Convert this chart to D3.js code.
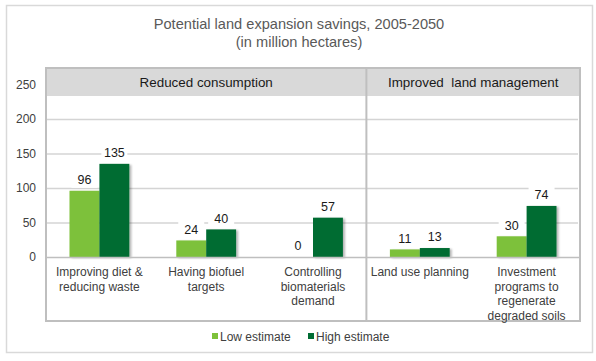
<!DOCTYPE html>
<html>
<head>
<meta charset="utf-8">
<script src="https://cdn.jsdelivr.net/npm/d3@7"></script>
<style>
  body { margin: 0; background: #fff; }
  svg { font-family: "Liberation Sans", Arial, sans-serif; }
</style>
</head>
<body>
<div id="chart"></div>
<script>
// data
var categories = [
  ["Improving diet &", "reducing waste"],
  ["Having biofuel", "targets"],
  ["Controlling", "biomaterials", "demand"],
  ["Land use planning"],
  ["Investment", "programs to", "regenerate", "degraded soils"]
];
var lowEstimate = [96, 24, 0, 11, 30];
var highEstimate = [135, 40, 57, 13, 74];
var groups = [
  { name: "Reduced consumption", from: 0, to: 3 },
  { name: "Improved  land management", from: 3, to: 5 }
];
var yTicks = [0, 50, 100, 150, 200, 250];
var seriesNames = ["Low estimate", "High estimate"];
var colors = ["#7dc13a", "#006c33"];

var W = 596, H = 361;
var margin = { top: 68, right: 16, bottom: 40, left: 46 };
var plotW = W - margin.left - margin.right;

var svg = d3.select("#chart").append("svg")
  .attr("width", W)
  .attr("height", H);

// outer frame
svg.append("rect")
  .attr("x", 6.5).attr("y", 5.5)
  .attr("width", 586).attr("height", 347)
  .attr("fill", "#fff")
  .attr("stroke", "#d9d9d9")
  .attr("stroke-width", 1.5);

// title
svg.append("text")
  .attr("x", 299).attr("y", 29)
  .attr("text-anchor", "middle")
  .attr("fill", "#595959")
  .style("font-size", "14.6px")
  .text("Potential land expansion savings, 2005-2050");
svg.append("text")
  .attr("x", 299).attr("y", 47)
  .attr("text-anchor", "middle")
  .attr("fill", "#595959")
  .style("font-size", "14.6px")
  .text("(in million hectares)");

var x = d3.scaleBand()
  .domain(d3.range(categories.length))
  .range([margin.left, margin.left + plotW])
  .paddingInner(0.44)
  .paddingOuter(0.22);
var xInner = d3.scaleBand()
  .domain([0, 1])
  .range([0, x.bandwidth()]);
var xCell = d3.scaleBand()
  .domain(d3.range(categories.length))
  .range([margin.left, margin.left + plotW]);

var y = d3.scaleLinear()
  .domain([0, 200])
  .range([257, 119]);

var boxTop = 68, boxBottom = 321, headerBottom = 96;

// gridlines
svg.append("g")
  .selectAll("line")
  .data(yTicks.filter(function (d) { return d > 0 && y(d) > headerBottom; }))
  .enter().append("line")
  .attr("x1", margin.left).attr("x2", margin.left + plotW - 2)
  .attr("y1", function (d) { return y(d) + 0.5; })
  .attr("y2", function (d) { return y(d) + 0.5; })
  .attr("stroke", "#d4d4d4")
  .attr("stroke-width", 1.5);

// header band
svg.append("rect")
  .attr("x", margin.left).attr("y", boxTop)
  .attr("width", plotW).attr("height", headerBottom - boxTop)
  .attr("fill", "#d9d9d9");

// y axis labels
svg.append("g")
  .selectAll("text")
  .data(yTicks)
  .enter().append("text")
  .attr("x", 36)
  .attr("y", function (d) { return y(d); })
  .attr("dy", "0.35em")
  .attr("text-anchor", "end")
  .attr("fill", "#404040")
  .style("font-size", "12px")
  .text(function (d) { return d; });

// shadow
var defs = svg.append("defs");
var f = defs.append("filter").attr("id", "shadow")
  .attr("x", "-20%").attr("y", "-20%").attr("width", "150%").attr("height", "150%");
f.append("feGaussianBlur").attr("in", "SourceAlpha").attr("stdDeviation", 1.2);
f.append("feOffset").attr("dx", 2).attr("dy", 1).attr("result", "ob");
f.append("feComponentTransfer").append("feFuncA").attr("type", "linear").attr("slope", 0.3);
var fm = f.append("feMerge");
fm.append("feMergeNode");
fm.append("feMergeNode").attr("in", "SourceGraphic");

// bars
var series = [lowEstimate, highEstimate];
series.forEach(function (vals, s) {
  svg.append("g")
    .attr("filter", "url(#shadow)")
    .selectAll("rect")
    .data(vals)
    .enter().append("rect")
    .attr("x", function (d, i) { return x(i) + xInner(s); })
    .attr("y", function (d) { return y(d); })
    .attr("width", xInner.bandwidth())
    .attr("height", function (d) { return y(0) - y(d); })
    .attr("fill", colors[s]);
});

// value labels
series.forEach(function (vals, s) {
  var g = svg.append("g").selectAll("g")
    .data(vals)
    .enter().append("g")
    .attr("transform", function (d, i) {
      return "translate(" + (x(i) + xInner(s) + xInner.bandwidth() / 2) + "," + (y(d) - 11) + ")";
    });
  g.append("rect")
    .attr("x", -13).attr("y", -8)
    .attr("width", 26).attr("height", 16)
    .attr("fill", "#fff");
  g.append("text")
    .attr("text-anchor", "middle")
    .attr("dy", "0.35em")
    .attr("fill", "#1a1a1a")
    .style("font-size", "12.5px")
    .text(function (d) { return d; });
});

// baseline
svg.append("line")
  .attr("x1", margin.left).attr("x2", margin.left + plotW)
  .attr("y1", y(0) + 0.5).attr("y2", y(0) + 0.5)
  .attr("stroke", "#bfbfbf").attr("stroke-width", 1.5);

// plot box + group divider
svg.append("rect")
  .attr("x", margin.left).attr("y", boxTop)
  .attr("width", plotW).attr("height", boxBottom - boxTop)
  .attr("fill", "none")
  .attr("stroke", "#bfbfbf")
  .attr("stroke-width", 2);

groups.forEach(function (g, k) {
  var x0 = xCell(g.from);
  var x1 = g.to < categories.length ? xCell(g.to) : margin.left + plotW;
  if (k > 0) {
    svg.append("line")
      .attr("x1", x0).attr("x2", x0)
      .attr("y1", boxTop).attr("y2", boxBottom)
      .attr("stroke", "#bfbfbf").attr("stroke-width", 2);
  }
  svg.append("text")
    .attr("x", (x0 + x1) / 2).attr("y", 82)
    .attr("dy", "0.35em")
    .attr("text-anchor", "middle")
    .attr("fill", "#1a1a1a")
    .style("font-size", "13.4px")
    .style("white-space", "pre")
    .attr("xml:space", "preserve")
    .text(g.name);
});

// category labels
svg.append("g")
  .selectAll("text")
  .data(categories)
  .enter().append("text")
  .attr("text-anchor", "middle")
  .attr("fill", "#404040")
  .style("font-size", "12px")
  .each(function (lines, i) {
    d3.select(this).selectAll("tspan")
      .data(lines)
      .enter().append("tspan")
      .attr("x", x(i) + x.bandwidth() / 2)
      .attr("y", function (d, j) { return 276 + j * 14.5; })
      .text(function (d) { return d; });
  });

// legend
var legend = svg.append("g").attr("transform", "translate(212,337)");
var lx = [0, 96];
seriesNames.forEach(function (n, s) {
  legend.append("rect")
    .attr("x", lx[s]).attr("y", -4)
    .attr("width", 6).attr("height", 6)
    .attr("fill", colors[s]);
  legend.append("text")
    .attr("x", lx[s] + 8).attr("y", 0)
    .attr("dy", "0.35em")
    .attr("fill", "#404040")
    .style("font-size", "12px")
    .text(n);
});
</script>
</body>
</html>
